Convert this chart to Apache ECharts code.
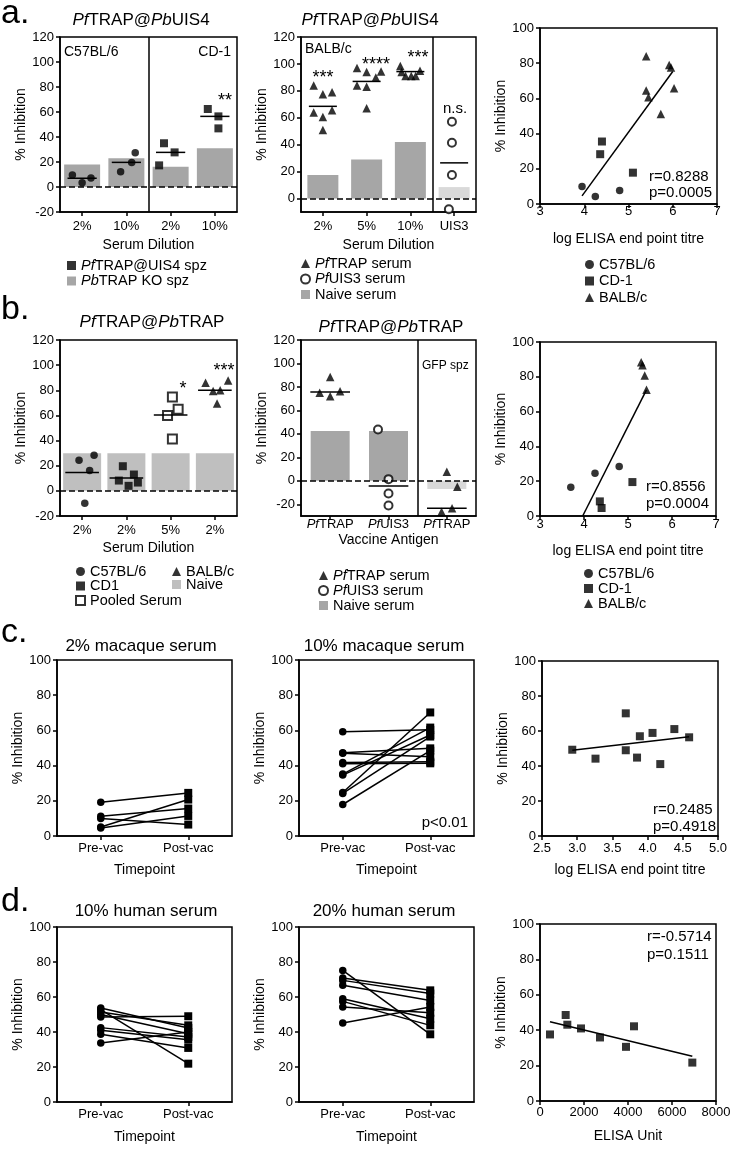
<!DOCTYPE html>
<html>
<head>
<meta charset="utf-8">
<script src="https://cdn.jsdelivr.net/npm/echarts@6/dist/echarts.min.js"></script>
<style>
html, body { margin: 0; padding: 0; background: #fff; }
#chart { width: 734px; height: 1150px; }
</style>
</head>
<body>
<div id="chart"></div>
<script>
// ---- panel a: PfTRAP@PbUIS4 ----
const a1Cats = ['2%', '10%', '2%', '10%'];
const a1Naive = [18, 23, 16.3, 31];
const a1CircX = [-0.22, 0, 0.2, 0.87, 1.12, 1.2];
const a1CircY = [9.6, 3.5, 7.2, 12.3, 19.7, 27.5];
const a1SqX = [1.74, 1.85, 2.09, 2.84, 3.08, 3.08];
const a1SqY = [17.3, 35, 27.7, 62.4, 56.5, 46.9];
const a1Medians = [7, 19.7, 27.7, 56.5];

const a2Cats = ['2%', '5%', '10%', 'UIS3'];
const a2Naive = [17.5, 29, 42, 8.5];
const a2TriX = [-0.21, 0, 0.21, -0.21, 0, 0.21, 0, 0.78, 1, 1.33, 1.21, 0.78, 1, 1, 1.77, 2.22, 1.8, 1.89, 2.02, 2.12];
const a2TriY = [84, 77.5, 79, 64, 60.5, 65.5, 51, 97, 94, 94.3, 90, 84, 83, 67, 98.5, 95, 94, 91, 91, 91];
const a2CircX = [2.95, 2.95, 2.95, 2.88];
const a2CircY = [57, 41.5, 17.5, -8];
const a2Medians = [68.5, 87, 94.3, 26.5];

const a3C57X = [3.95, 4.25, 4.8];
const a3C57Y = [9.9, 4.2, 7.6];
const a3CD1X = [4.4, 4.36, 5.1];
const a3CD1Y = [35.5, 28.3, 17.8];
const a3BalbX = [5.4, 5.92, 5.96, 5.4, 5.45, 6.03, 5.73];
const a3BalbY = [83.9, 79, 77.6, 64.5, 60.7, 65.8, 51.2];
const a3FitX = [3.95, 6.0];
const a3FitY = [4.6, 75.3];

// ---- panel b: PfTRAP@PbTRAP ----
const b1Cats = ['2%', '2%', '5%', '2%'];
const b1Naive = [30, 30, 30, 30];
const b1C57X = [-0.07, 0.27, 0.17, 0.06];
const b1C57Y = [24.4, 28.3, 16.2, -9.8];
const b1CD1X = [0.92, 0.83, 1.05, 1.17, 1.26];
const b1CD1Y = [19.6, 8.2, 4, 13, 6.6];
const b1PoolX = [2.04, 2.17, 1.93, 2.04];
const b1PoolY = [74.7, 65, 60, 41.3];
const b1BalbX = [2.79, 3.3, 2.96, 3.12, 3.05];
const b1BalbY = [86, 87.7, 79.5, 80, 69.4];
const b1Medians = [14.6, 10.3, 60.4, 80];

const b2Cats = ['PfTRAP', 'PfUIS3', 'PfTRAP'];
const b2Naive = [42.5, 42.5, -7];
const b2TriX = [0, -0.18, 0, 0.17, 2, 2.18, 1.91, 2.09];
const b2TriY = [88.5, 75, 72, 76.3, 7.7, -5, -26.4, -23.5];
const b2CircX = [0.82, 1, 1, 1];
const b2CircY = [43.7, 1.4, -10.8, -21];
const b2Medians = [75.7, -4.5, -23.5];

const b3C57X = [3.7, 4.25, 4.8];
const b3C57Y = [16.5, 24.5, 28.5];
const b3CD1X = [4.36, 4.4, 5.1];
const b3CD1Y = [8.4, 4.6, 19.5];
const b3BalbX = [5.3, 5.33, 5.38, 5.42];
const b3BalbY = [88.3, 86.6, 80.8, 72.6];
const b3FitX = [3.97, 5.42];
const b3FitY = [0, 72.5];

// ---- panel c: macaque serum ----
const timeCats = ['Pre-vac', 'Post-vac'];
const c1Pre = [19.2, 11.2, 9.9, 5.1, 4.5];
const c1Post = [24.5, 15.6, 6.5, 20.7, 11.4];
const c2Pre = [59.3, 47.3, 47, 41.8, 41, 35.2, 34.6, 24.7, 24.2, 17.9];
const c2Post = [60.3, 49.8, 45, 42.2, 41.3, 61.6, 57.4, 70.2, 56.5, 48.5];
const c3X = [2.93, 3.26, 3.69, 3.69, 3.89, 3.85, 4.07, 4.18, 4.38, 4.59];
const c3Y = [49.3, 44.2, 70.1, 49, 57, 44.8, 58.9, 41.1, 61.1, 56.4];
const c3FitX = [2.93, 4.59];
const c3FitY = [49, 56.7];

// ---- panel d: human serum ----
const d1Pre = [53.7, 52.8, 51.4, 50, 48.6, 42.5, 41, 38.7, 33.7];
const d1Post = [42.3, 21.9, 43.8, 39, 49, 37.1, 35.6, 30.9, 40];
const d2Pre = [75.2, 70.9, 69.5, 66.7, 59, 57.5, 54.3, 45.1];
const d2Post = [38.7, 63.8, 62, 58, 47.6, 43.8, 51, 54.3];
const d3X = [455, 1167, 1242, 1864, 2727, 3909, 4273, 6924];
const d3Y = [37.6, 48.6, 43.1, 41, 35.9, 30.6, 42.2, 21.7];
const d3FitX = [455, 6924];
const d3FitY = [44.8, 25.3];

const FONT = '"Liberation Sans", Arial, sans-serif';
const K = '#000';
const DARK = '#a6a6a6';
const MID = '#bfbfbf';
const LIGHT = '#d9d9d9';
const RICH_I = (size) => ({ i: { fontStyle: 'italic', fontSize: size, fontFamily: FONT, color: K } });
const italicPf = (s) => s.replace(/^(Pf|Pb)/, '{i|$1}');

// grid boxes: left, top, width, height
const boxes = [
  [60, 37, 177, 175], [301, 37, 175, 175], [540, 28, 177, 176],
  [60, 340, 177, 176], [301, 340, 175, 176], [540, 342, 176, 174],
  [57, 660, 175, 176], [299, 660, 175, 176], [542, 661, 176, 175],
  [57, 927, 175, 175], [299, 927, 175, 175], [540, 924, 176, 177]
];
const grid = boxes.map(([l, t, w, h]) => ({
  left: l, top: t, width: w, height: h, show: true, borderColor: K, borderWidth: 1.5
}));

const lineK = { color: K, width: 1.5 };

function yAx(gi, min, max, ticks) {
  const ax = {
    type: 'value', gridIndex: gi, min, max,
    name: '% Inhibition', nameLocation: 'middle', nameGap: 26, nameRotate: 90,
    nameTextStyle: { fontSize: 14, color: K, fontFamily: FONT },
    axisLine: { show: true, onZero: false, lineStyle: lineK },
    axisTick: { show: true, length: 4, lineStyle: lineK },
    axisLabel: { fontSize: 13, color: K, fontFamily: FONT, margin: 6 },
    splitLine: { show: false }
  };
  if (ticks) {
    ax.axisTick.customValues = ticks;
    ax.axisLabel.customValues = ticks;
  } else {
    ax.interval = 20;
  }
  return ax;
}

function catAx(gi, cats, name, margin, nameGap, italic) {
  const idx = cats.map((c, i) => i);
  return {
    type: 'value', gridIndex: gi, min: -0.5, max: cats.length - 0.5,
    name, nameLocation: 'middle', nameGap,
    nameTextStyle: { fontSize: 14, color: K, fontFamily: FONT },
    axisLine: { show: true, onZero: false, lineStyle: lineK },
    axisTick: { show: true, length: 4, lineStyle: lineK, customValues: idx },
    axisLabel: {
      customValues: idx, fontSize: 13, color: K, fontFamily: FONT, margin,
      formatter: (v) => (italic ? italicPf(cats[Math.round(v)]) : cats[Math.round(v)]),
      rich: RICH_I(13)
    },
    splitLine: { show: false }
  };
}

function valAx(gi, min, max, interval, name, margin, nameGap, fmt) {
  return {
    type: 'value', gridIndex: gi, min, max, interval,
    name, nameLocation: 'middle', nameGap,
    nameTextStyle: { fontSize: 14, color: K, fontFamily: FONT },
    axisLine: { show: true, onZero: false, lineStyle: lineK },
    axisTick: { show: true, length: 4, lineStyle: lineK },
    axisLabel: { fontSize: 13, color: K, fontFamily: FONT, margin, formatter: fmt || ((v) => String(v)) },
    splitLine: { show: false }
  };
}

function bars(gi, name, vals, width, colors, dividers) {
  const lines = [{ yAxis: 0, lineStyle: { type: [6, 3] } }];
  (dividers || []).forEach((d) => lines.push({ xAxis: d, lineStyle: { type: 'solid' } }));
  return {
    type: 'bar', name, xAxisIndex: gi, yAxisIndex: gi, barWidth: width, z: 1,
    itemStyle: { color: colors[0] },
    data: vals.map((v, i) => ({ value: [i, v], itemStyle: { color: colors[i] || colors[0] } })),
    markLine: {
      silent: true, symbol: ['none', 'none'], label: { show: false },
      lineStyle: { color: K, width: 1.5 }, data: lines
    }
  };
}

function pts(gi, name, xs, ys, symbol, size) {
  return {
    type: 'scatter', name, xAxisIndex: gi, yAxisIndex: gi, symbol, symbolSize: size,
    clip: false, z: 4, itemStyle: { color: K },
    data: xs.map((x, i) => [x, ys[i]])
  };
}

function medians(gi, vals, half) {
  return {
    type: 'custom', xAxisIndex: gi, yAxisIndex: gi, silent: true, z: 5,
    data: vals.map((m, i) => [i, m]),
    renderItem: (params, api) => {
      const a = api.coord([api.value(0) - half, api.value(1)]);
      const b = api.coord([api.value(0) + half, api.value(1)]);
      return { type: 'line', shape: { x1: a[0], y1: a[1], x2: b[0], y2: b[1] }, style: { stroke: K, lineWidth: 1.5 } };
    }
  };
}

function fit(gi, xs, ys) {
  return {
    type: 'line', xAxisIndex: gi, yAxisIndex: gi, symbol: 'none', z: 3,
    lineStyle: lineK, data: xs.map((x, i) => [x, ys[i]])
  };
}

function pairs(gi, pre, post) {
  return pre.map((p, i) => ({
    type: 'line', xAxisIndex: gi, yAxisIndex: gi, symbolSize: 7.5, showSymbol: true, clip: false,
    lineStyle: lineK, itemStyle: { color: K },
    data: [{ value: [0, p], symbol: 'circle' }, { value: [1, post[i]], symbol: 'rect', symbolSize: 8 }]
  }));
}

const ticks0 = [0, 20, 40, 60, 80, 100, 120];
const ticksM20 = [-20, 0, 20, 40, 60, 80, 100, 120];

const xAxis = [
  catAx(0, a1Cats, 'Serum Dilution', 8, 26),
  catAx(1, a2Cats, 'Serum Dilution', 8, 26),
  valAx(2, 3, 7, 1, 'log ELISA end point titre', 1, 28),
  catAx(3, b1Cats, 'Serum Dilution', 8, 25),
  catAx(4, b2Cats, 'Vaccine Antigen', 2, 17, true),
  valAx(5, 3, 7, 1, 'log ELISA end point titre', 2, 28),
  catAx(6, timeCats, 'Timepoint', 6, 27),
  catAx(7, timeCats, 'Timepoint', 6, 27),
  valAx(8, 2.5, 5, 0.5, 'log ELISA end point titre', 6, 27, (v) => v.toFixed(1)),
  catAx(9, timeCats, 'Timepoint', 6, 28),
  catAx(10, timeCats, 'Timepoint', 6, 28),
  valAx(11, 0, 8000, 2000, 'ELISA Unit', 5, 28)
];

const yAxis = [
  yAx(0, -20, 120), yAx(1, -10, 120, ticks0), yAx(2, 0, 100),
  yAx(3, -20, 120), yAx(4, -30, 120, ticksM20), yAx(5, 0, 100),
  yAx(6, 0, 100), yAx(7, 0, 100), yAx(8, 0, 100),
  yAx(9, 0, 100), yAx(10, 0, 100), yAx(11, 0, 100)
];

const series = [
  // a1
  bars(0, 'PbTRAP KO spz', a1Naive, 36, [DARK], [1.5]),
  pts(0, 'C57BL/6', a1CircX, a1CircY, 'circle', 7.5),
  pts(0, 'PfTRAP@UIS4 spz', a1SqX, a1SqY, 'rect', 8),
  medians(0, a1Medians, 0.33),
  // a2
  bars(1, 'Naive serum', a2Naive, 31, [DARK, DARK, DARK, LIGHT], [2.5]),
  pts(1, 'PfTRAP serum', a2TriX, a2TriY, 'triangle', 8.5),
  pts(1, 'PfUIS3 serum', a2CircX, a2CircY, 'emptyCircle', 8),
  medians(1, a2Medians, 0.32),
  // a3
  pts(2, 'C57BL/6', a3C57X, a3C57Y, 'circle', 7.5),
  pts(2, 'CD-1', a3CD1X, a3CD1Y, 'rect', 8),
  pts(2, 'BALB/c', a3BalbX, a3BalbY, 'triangle', 8.5),
  fit(2, a3FitX, a3FitY),
  // b1
  bars(3, 'Naive', b1Naive, 38, [MID]),
  pts(3, 'C57BL/6', b1C57X, b1C57Y, 'circle', 7.5),
  pts(3, 'CD1', b1CD1X, b1CD1Y, 'rect', 8),
  pts(3, 'Pooled Serum', b1PoolX, b1PoolY, 'emptyRect', 9),
  pts(3, 'BALB/c', b1BalbX, b1BalbY, 'triangle', 8.5),
  medians(3, b1Medians, 0.38),
  // b2
  bars(4, 'Naive serum', b2Naive, 39, [DARK, DARK, LIGHT], [1.5]),
  pts(4, 'PfTRAP serum', b2TriX, b2TriY, 'triangle', 8.5),
  pts(4, 'PfUIS3 serum', b2CircX, b2CircY, 'emptyCircle', 8),
  medians(4, b2Medians, 0.34),
  // b3
  pts(5, 'C57BL/6', b3C57X, b3C57Y, 'circle', 7.5),
  pts(5, 'CD-1', b3CD1X, b3CD1Y, 'rect', 8),
  pts(5, 'BALB/c', b3BalbX, b3BalbY, 'triangle', 8.5),
  fit(5, b3FitX, b3FitY),
  // c
  ...pairs(6, c1Pre, c1Post),
  ...pairs(7, c2Pre, c2Post),
  pts(8, 'macaque', c3X, c3Y, 'rect', 8),
  fit(8, c3FitX, c3FitY),
  // d
  ...pairs(9, d1Pre, d1Post),
  ...pairs(10, d2Pre, d2Post),
  pts(11, 'human', d3X, d3Y, 'rect', 8),
  fit(11, d3FitX, d3FitY)
];

function legend(left, top, names, gap, icons) {
  return {
    left, top, orient: 'vertical', itemGap: gap, itemWidth: 9, itemHeight: 9, padding: 0,
    selectedMode: false,
    data: names.map((n, i) => (icons && icons[i] ? { name: n, icon: icons[i] } : { name: n })),
    formatter: italicPf,
    textStyle: { fontSize: 14.5, color: K, fontFamily: FONT, rich: RICH_I(14.5) }
  };
}

const legends = [
  legend(67, 258, ['PfTRAP@UIS4 spz', 'PbTRAP KO spz'], 0.5, [null, 'rect']),
  legend(300, 256, ['PfTRAP serum', 'PfUIS3 serum', 'Naive serum'], 0.5, [null, null, 'rect']),
  legend(585, 257, ['C57BL/6', 'CD-1', 'BALB/c'], 1.5),
  legend(75, 564, ['C57BL/6', 'CD1', 'Pooled Serum'], -0.5),
  legend(172, 564, ['BALB/c', 'Naive'], -2, [null, 'rect']),
  legend(318, 568, ['PfTRAP serum', 'PfUIS3 serum', 'Naive serum'], 0, [null, null, 'rect']),
  legend(584, 566, ['C57BL/6', 'CD-1', 'BALB/c'], 0)
];

function txt(x, y, text, size, align) {
  return {
    type: 'text', x, y, silent: true,
    style: {
      text, fontSize: size, fontFamily: FONT, fill: K, align: align || 'left', verticalAlign: 'middle',
      rich: { i: { fontStyle: 'italic', fontSize: size, fontFamily: FONT, fill: K } }
    }
  };
}

const uis4Title = '{i|Pf}TRAP@{i|Pb}UIS4';
const trapTitle = '{i|Pf}TRAP@{i|Pb}TRAP';

const texts = [
  txt(1, 14, 'a.', 34), txt(1, 310, 'b.', 34), txt(1, 633, 'c.', 34), txt(1, 902, 'd.', 34),
  txt(141, 20, uis4Title, 17, 'center'),
  txt(370, 20, uis4Title, 17, 'center'),
  txt(152, 322, trapTitle, 17, 'center'),
  txt(391, 327, trapTitle, 17, 'center'),
  txt(141, 646, '2% macaque serum', 17, 'center'),
  txt(384, 646, '10% macaque serum', 17, 'center'),
  txt(146, 911, '10% human serum', 17, 'center'),
  txt(384, 911, '20% human serum', 17, 'center'),
  // inside labels
  txt(64, 52, 'C57BL/6', 14),
  txt(231, 52, 'CD-1', 14, 'right'),
  txt(305, 49, 'BALB/c', 14),
  txt(422, 366, 'GFP spz', 12),
  // significance
  txt(225, 101, '**', 18, 'center'),
  txt(323, 78, '***', 18, 'center'),
  txt(376, 65, '****', 18, 'center'),
  txt(418, 58, '***', 18, 'center'),
  txt(455, 109, 'n.s.', 15, 'center'),
  txt(183, 389, '*', 18, 'center'),
  txt(224, 371, '***', 18, 'center'),
  txt(468, 823, 'p<0.01', 15, 'right'),
  // correlation stats
  txt(649, 177, 'r=0.8288', 15), txt(649, 193, 'p=0.0005', 15),
  txt(646, 487, 'r=0.8556', 15), txt(646, 504, 'p=0.0004', 15),
  txt(653, 810, 'r=0.2485', 15), txt(653, 827, 'p=0.4918', 15),
  txt(647, 937, 'r=-0.5714', 15), txt(647, 955, 'p=0.1511', 15)
];

const chart = echarts.init(document.getElementById('chart'));
chart.setOption({
  animation: false,
  backgroundColor: '#fff',
  textStyle: { fontFamily: FONT },
  grid, xAxis, yAxis, series,
  legend: legends,
  graphic: { elements: texts }
});
window.addEventListener('resize', () => chart.resize());
</script>
</body>
</html>
